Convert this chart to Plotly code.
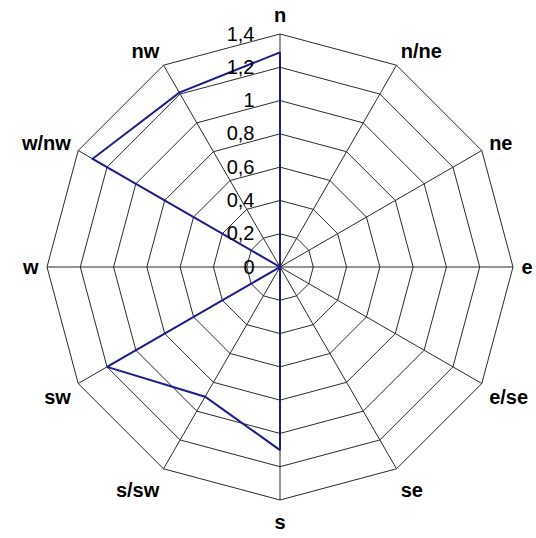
import plotly.graph_objects as go

directions = ["n", "n/ne", "ne", "e", "e/se", "se", "s", "s/sw", "sw", "w", "w/nw", "nw"]
values = [1.29, 0, 0, 0, 0, 0, 1.10, 0.90, 1.20, 0, 1.30, 1.21]
tick_vals = [0, 0.2, 0.4, 0.6, 0.8, 1.0, 1.2, 1.4]
tick_text = ["0", "0,2", "0,4", "0,6", "0,8", "1", "1,2", "1,4"]

fig = go.Figure()
fig.add_trace(go.Scatterpolar(
    r=values + [values[0]],
    theta=directions + [directions[0]],
    mode="lines",
    line=dict(color="#1c1c8a", width=2),
    showlegend=False,
))

fig.update_layout(
    width=536, height=538,
    margin=dict(l=47, r=23, t=34, b=38),
    paper_bgcolor="white",
    plot_bgcolor="white",
    font=dict(family="Liberation Sans, Arial, sans-serif", color="black"),
    polar=dict(
        bgcolor="white",
        gridshape="linear",
        angularaxis=dict(
            rotation=90, direction="clockwise",
            categoryorder="array", categoryarray=directions,
            showline=True, linecolor="#2a2a2a", linewidth=1,
            gridcolor="#2a2a2a", gridwidth=1,
            ticks="outside", ticklen=4, tickcolor="rgba(0,0,0,0)",
            tickfont=dict(size=20, family="Liberation Sans, Arial", color="black", weight="bold"),
        ),
        radialaxis=dict(
            range=[0, 1.4], angle=90, tickangle=90,
            tickmode="array", tickvals=tick_vals, ticktext=tick_text,
            showline=False, gridcolor="#2a2a2a", gridwidth=1,
            ticks="outside", ticklen=18, tickcolor="rgba(0,0,0,0)",
            side="counterclockwise",
            tickfont=dict(size=20, color="black"),
        ),
    ),
)

fig.write_html("out.html", config={"displayModeBar": False},
               post_script="document.body.style.margin='0';")
